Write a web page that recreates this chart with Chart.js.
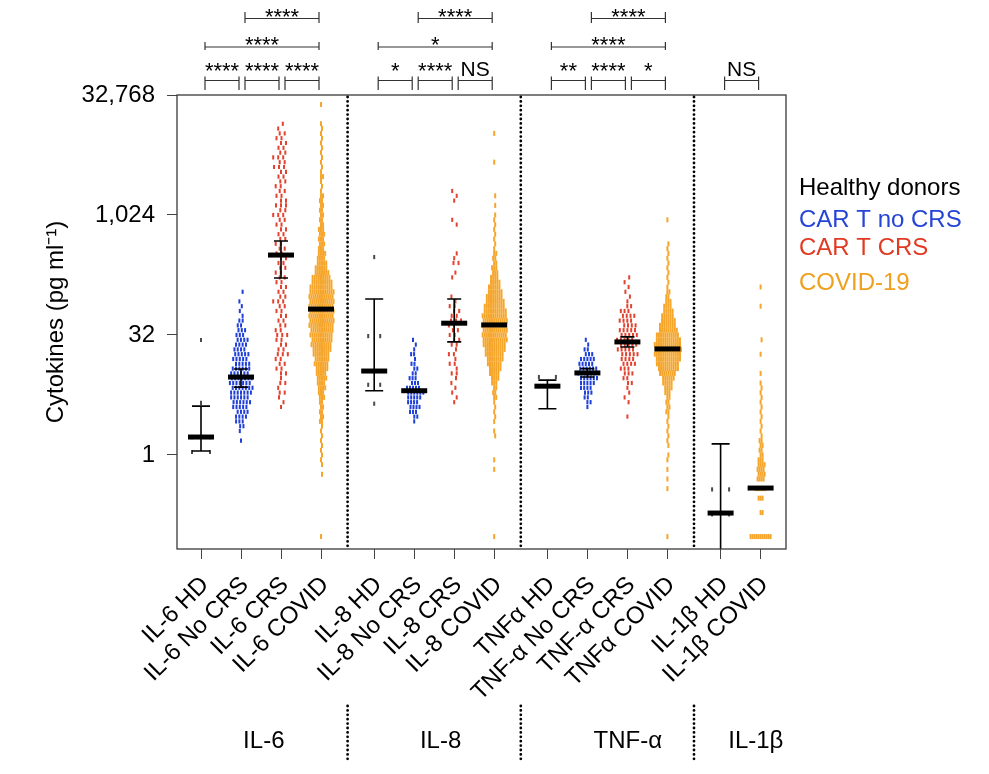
<!DOCTYPE html>
<html>
<head>
<meta charset="utf-8">
<script src="https://cdn.jsdelivr.net/npm/chart.js@4.4.1/dist/chart.umd.min.js"></script>
<style>
  html, body { margin: 0; padding: 0; background: #fff; }
</style>
</head>
<body>
<canvas id="chart" width="989" height="774"></canvas>
<script>
// ---------- data ----------
const categories = [
  'IL-6 HD', 'IL-6 No CRS', 'IL-6 CRS', 'IL-6 COVID',
  'IL-8 HD', 'IL-8 No CRS', 'IL-8 CRS', 'IL-8 COVID',
  'TNFα HD', 'TNF-α No CRS', 'TNF-α CRS', 'TNFα COVID',
  'IL-1β HD', 'IL-1β COVID'
];
const panels     = ['IL-6', 'IL-8', 'TNF-α', 'IL-1β'];
const panelSizes = [4, 4, 4, 2];
const yTicks     = [1, 32, 1024, 32768];
const legendNames = ['Healthy donors', 'CAR T no CRS', 'CAR T CRS', 'COVID-19'];

// median and error bar per category (pg/ml), null = no bar drawn
const medians = [1.68, 9.5, 322, 67.6, 11.3, 6.4, 45, 42.8, 7.3, 10.7, 26.2, 21.4, 0.187, 0.385];
const ciLow   = [1.12, 7.1, 166, null, 6.4, null, 26.2, null, 3.8, 9.5, 22.6, null, 0.01, null];
const ciHigh  = [4.1, 12.0, 484, null, 90.5, null, 90.5, null, 8.7, 12.1, 30.3, null, 1.38, null];

// healthy donors: single samples (pg/ml)
const hdIl6  = [27.7, 4.5, 1.68, 1.68, 1.09, 1.09];
const hdIl8  = [304, 31, 31, 7.6, 7.6, 4.4];
const hdTnf  = [9.5, 9.5, 7.3, 7.3];
const hdIl1b = [0.37, 0.37, 0.18, 0.18];

// other groups: sample counts per 1/5 log2 bin, the first bin sits at 2^low
const il6NoCrsLow = 0.6;
const il6NoCrs = [1,0,1,2,3,4,4,5,6,6,7,7,7,7,6,6,5,5,5,4,4,4,3,3,2,2,1,1,1,1,0,1];
const il6CrsLow = 2.0;
const il6Crs = [1,1,1,2,1,2,1,2,2,2, 2,3,2,2,2,3,2,2,2,2, 2,2,3,2,2,2,2,2,2,2, 2,2,
                2,2,2,2,2,2,2,2, 3,2,3,2,2,2,2,2,2,2, 3,2,3,2,2,2,2,2,1,1];
const il6CovidLow = -3.4;
const il6Covid = [1, 0,0,0,0,0,0,0,0,0,0,0,0, 1,0, 1,1,1,1,1,1,1,1,1, 2,2,2,2,2,
                  3,3,4,4,5,5,6,7,7,8,9,10,10,11,11, 12,12,12,12,12,12,12,12,
                  11,10,9,7,6,5,4,4, 3,3,3,3,3, 2,2,2,2,2,2,2, 1,1,1,2,
                  1,1,1,1,1,1,1,1,1,1,1, 0,0,0,1];

const il8NoCrsLow = 1.4;
const il8NoCrs = [1,2,3,4,4,5,6,5,3,3,2,2,2,1,2,1,1,1];
const il8CrsLow = 2.2;
const il8Crs = [1,1,1,1,1,1, 2,1,2,1,2,1,2,2,2,2,2,3,2, 2,2,1,1, 0,0,0, 1,1, 0, 2,1,1,
                0,0,0,0,0, 1,1, 0,0,0, 1,1,1];
const il8CovidLow = -3.4;
const il8Covid = [1, 0,0,0,0,0,0,0,0,0,0,0,0,0, 1,0,1,0,0,0,0, 1,1,0, 1,1,1,1,1,
                  2,2,2,3,4,5,6,7,8,9,10,11, 12,12,12,12,12,12,
                  11,10,9,8,7,6,5,4,3,3,2,2,2, 1,1,1,1,1,1,1,1,
                  0,1,0,1, 0,0,0,0,0,0, 1, 0,0,0,0,0, 1];

const tnfNoCrsLow = 2.0;
const tnfNoCrs = [1,2,2,3,4,5,6,6,6,5,5,3,2,1,1];
const tnfCrsLow = 1.6;
const tnfCrs = [1,0,0,1,1,1,1,2,2,3,3,4,4,5,5,5,5,5,5,4,4,4,3,2,1,1,1,1,1,1];
const tnfCovidLow = -3.4;
const tnfCovid = [1, 0,0,0,0,0,0,0,0,0, 1,0,1,0,1,0,1,1,0, 1,1,1,1,1,1,1, 2,2,2,2,
                  3,4,5,6,8,10,11,12,13,13,13,12,11,9,8,7,6,5,4,3,2,2,
                  1,1,1,1,1,1,1,1,1,1, 0,0,0,0, 1];

const il1bCovidLow = -3.4;
const il1bCovid = [11, 0,0,0,0, 2, 0,0, 3, 0, 6, 0, 4,4,4,4,3,2,2,2,2,
                   1,1,1,1,1,1,1,1,1,1,1,1, 0,1, 0,0,0, 1, 0,0, 1, 0,0,0,0,0,0, 1, 0,0,0, 1];

// comparisons: [from category, to category, label, row (1 = top)]
const comparisons = [
  [1, 3, '****', 1], [0, 3, '****', 2], [0, 1, '****', 3], [1, 2, '****', 3], [2, 3, '****', 3],
  [5, 7, '****', 1], [4, 7, '*', 2],    [4, 5, '*', 3],    [5, 6, '****', 3], [6, 7, 'NS', 3],
  [9, 11, '****', 1], [8, 11, '****', 2], [8, 9, '**', 3], [9, 10, '****', 3], [10, 11, '*', 3],
  [12, 13, 'NS', 3]
];

// ---------- layout ----------
const FONT = "'Liberation Sans', Arial, Helvetica, sans-serif";
const STEP = 0.2;        // bin width in log2 units
const GROUP_GAP = 4.33;  // x distance between first categories of two panels
const PX = 40;           // pixels per x unit at this canvas size

const colors = { hd: '#4a4a4a', noCrs: '#1f3fd9', crs: '#e2432f', covid: '#f5a52a' };
const legendColors = ['#000000', '#2444d6', '#e03a22', '#f0a01e'];

function catX(i) {
  let g = 0, j = i;
  while (j >= panelSizes[g]) { j -= panelSizes[g]; g++; }
  return g * GROUP_GAP + j;
}

const binsToRows   = (counts, low) => counts.map((n, i) => [Math.pow(2, low + i * STEP), n]);
const valuesToRows = vals => {
  const m = new Map();
  vals.forEach(v => m.set(v, (m.get(v) || 0) + 1));
  return [...m.entries()];
};

// beeswarm: spread each row of equal values sideways
function layRows(rows, cat, gap, shifts) {
  const pts = [];
  rows.forEach(([v, n], r) => {
    const s = shifts[r % shifts.length];
    for (let k = 0; k < n; k++) {
      pts.push({ x: catX(cat) + ((k - (n - 1) / 2) * gap + s) / PX, y: v });
    }
  });
  return pts;
}

const hdShift     = [0];
const blueShift   = [0, 1.6, -1.2, 0.8, -1.6];
const redShift    = [0, 2.5, -2, 1.2, -2.8, 1.8];
const orangeShift = [0, 1];

const hdPoints = [].concat(
  layRows(valuesToRows(hdIl6), 0, 18, hdShift),
  layRows(valuesToRows(hdIl8), 4, 12, hdShift),
  layRows(valuesToRows(hdTnf), 8, 17, hdShift),
  layRows(valuesToRows(hdIl1b), 12, 17, hdShift)
);
const noCrsPoints = [].concat(
  layRows(binsToRows(il6NoCrs, il6NoCrsLow), 1, 3.3, blueShift),
  layRows(binsToRows(il8NoCrs, il8NoCrsLow), 5, 3.0, blueShift),
  layRows(binsToRows(tnfNoCrs, tnfNoCrsLow), 9, 3.2, blueShift)
);
const crsPoints = [].concat(
  layRows(binsToRows(il6Crs, il6CrsLow), 2, 5, redShift),
  layRows(binsToRows(il8Crs, il8CrsLow), 6, 5, redShift),
  layRows(binsToRows(tnfCrs, tnfCrsLow), 10, 3.8, redShift)
);
const covidPoints = [].concat(
  layRows(binsToRows(il6Covid, il6CovidLow), 3, 2.1, orangeShift),
  layRows(binsToRows(il8Covid, il8CovidLow), 7, 2.1, orangeShift),
  layRows(binsToRows(tnfCovid, tnfCovidLow), 11, 2.1, orangeShift),
  layRows(binsToRows(il1bCovid, il1bCovidLow), 13, 2.0, orangeShift)
);

function dashSet(label, data, color, order, half) {
  return {
    label, data, order,
    pointStyle: 'line', pointRotation: 90,
    pointRadius: half, pointBorderWidth: 2,
    pointBorderColor: color, pointBackgroundColor: color
  };
}

// ---------- extra drawing ----------
function dotted(ctx, x, y0, y1) {
  ctx.save();
  ctx.strokeStyle = '#000';
  ctx.lineWidth = 2.8;
  ctx.lineCap = 'round';
  ctx.setLineDash([0, 4.4]);
  ctx.beginPath();
  ctx.moveTo(x, y0);
  ctx.lineTo(x, y1);
  ctx.stroke();
  ctx.restore();
}

const decor = {
  id: 'decor',
  afterDatasetsDraw(chart) {
    const { ctx, chartArea: a, scales: { x, y } } = chart;
    ctx.save();
    ctx.beginPath();
    ctx.rect(a.left, a.top, a.right - a.left, a.bottom - a.top);
    ctx.clip();
    ctx.strokeStyle = '#000';
    ctx.lineWidth = 1.6;
    categories.forEach((c, i) => {
      if (ciLow[i] == null) return;
      const px = x.getPixelForValue(catX(i));
      const lo = y.getPixelForValue(ciLow[i]);
      const hi = y.getPixelForValue(ciHigh[i]);
      const cap = (i === 0 || i === 4 || i === 8 || i === 12) ? 9 : 7;
      ctx.beginPath();
      ctx.moveTo(px, lo); ctx.lineTo(px, hi);
      ctx.moveTo(px - cap, hi); ctx.lineTo(px + cap, hi);
      if (lo < a.bottom) { ctx.moveTo(px - cap, lo); ctx.lineTo(px + cap, lo); }
      ctx.stroke();
    });
    ctx.restore();
  },
  afterDraw(chart) {
    const { ctx, chartArea: a, scales: { x } } = chart;
    ctx.save();

    // frame
    ctx.strokeStyle = '#3a3a3a';
    ctx.lineWidth = 1.3;
    ctx.strokeRect(a.left, a.top, a.right - a.left, a.bottom - a.top);

    // panel separators (inside plot and under the panel names)
    let first = 0;
    const sepX = [];
    for (let g = 0; g < panels.length - 1; g++) {
      const last = first + panelSizes[g] - 1;
      sepX.push(x.getPixelForValue((catX(last) + catX(last + 1)) / 2));
      first = last + 1;
    }
    sepX.forEach(px => {
      dotted(ctx, px, a.top + 2, a.bottom - 1);
      dotted(ctx, px, 706, 762);
    });

    // panel names
    const panelLabelX = [1.57, 5.99, 10.67, 13.87];
    ctx.fillStyle = '#000';
    ctx.font = '24px ' + FONT;
    ctx.textAlign = 'center';
    ctx.textBaseline = 'alphabetic';
    panels.forEach((p, g) => ctx.fillText(p, x.getPixelForValue(panelLabelX[g]), 748));

    // significance brackets
    const rowLine  = { 1: 18.5, 2: 47, 3: 80.5 };
    const rowTick  = { 1: [12, 23], 2: [42, 50], 3: [76.5, 90] };
    const rowStars = { 1: 24.3, 2: 52.2, 3: 78.1 };
    ctx.strokeStyle = '#333';
    ctx.lineWidth = 1.2;
    comparisons.forEach(([i, j, label, row]) => {
      const x1 = x.getPixelForValue(catX(i)) + 4;
      const x2 = x.getPixelForValue(catX(j)) - 2;
      const [t0, t1] = rowTick[row];
      ctx.beginPath();
      ctx.moveTo(x1, rowLine[row]); ctx.lineTo(x2, rowLine[row]);
      ctx.moveTo(x1, t0); ctx.lineTo(x1, t1);
      ctx.moveTo(x2, t0); ctx.lineTo(x2, t1);
      ctx.stroke();
      const mid = (x1 + x2) / 2;
      if (label === 'NS') {
        ctx.font = '21px ' + FONT;
        ctx.fillText(label, mid, 75.5);
      } else {
        ctx.font = '22px ' + FONT;
        ctx.fillText(label, mid, rowStars[row]);
      }
    });

    // legend
    ctx.font = '24px ' + FONT;
    ctx.textAlign = 'left';
    const legendY = [195, 227, 255, 290];
    legendNames.forEach((n, k) => {
      ctx.fillStyle = legendColors[k];
      ctx.fillText(n, 799, legendY[k]);
    });
    ctx.restore();
  }
};

// ---------- chart ----------
Chart.defaults.font.family = FONT;
Chart.defaults.color = '#000';

new Chart(document.getElementById('chart'), {
  type: 'scatter',
  data: {
    datasets: [
      {
        label: 'median',
        order: 0,
        data: medians.map((m, i) => ({ x: catX(i), y: m })),
        pointStyle: 'line', pointRotation: 0,
        pointRadius: 13, pointBorderWidth: 5,
        pointBorderColor: '#000', pointBackgroundColor: '#000'
      },
      dashSet(legendNames[0], hdPoints, colors.hd, 1, 2.1),
      dashSet(legendNames[1], noCrsPoints, colors.noCrs, 2, 2.1),
      dashSet(legendNames[2], crsPoints, colors.crs, 3, 2.1),
      dashSet(legendNames[3], covidPoints, colors.covid, 4, 2.5)
    ]
  },
  options: {
    responsive: false,
    animation: false,
    events: [],
    layout: { padding: { left: 0, top: 95, right: 203, bottom: 0 } },
    plugins: { legend: { display: false }, tooltip: { enabled: false } },
    scales: {
      x: {
        type: 'linear',
        min: -0.6,
        max: 14.625,
        afterBuildTicks: axis => { axis.ticks = categories.map((c, i) => ({ value: catX(i) })); },
        afterFit: axis => { axis.height = 225; },
        ticks: {
          autoSkip: false,
          minRotation: 45,
          maxRotation: 45,
          padding: 12,
          labelOffset: 4,
          font: { size: 24 },
          callback: (v, i) => categories[i]
        },
        grid: { drawOnChartArea: false, drawTicks: true, tickLength: 10, color: '#444' },
        border: { display: false }
      },
      y: {
        type: 'logarithmic',
        min: Math.pow(2, -3.917),
        max: 32768,
        afterBuildTicks: axis => { axis.ticks = yTicks.map(v => ({ value: v })); },
        afterFit: axis => { axis.width = 177; },
        ticks: {
          padding: 12,
          font: { size: 24 },
          callback: v => Number(v).toLocaleString('en-US')
        },
        grid: { drawOnChartArea: false, drawTicks: true, tickLength: 10, color: '#444' },
        border: { display: false },
        title: {
          display: true,
          text: 'Cytokines (pg ml⁻¹)',
          font: { size: 24 },
          padding: { top: 42, bottom: 0 }
        }
      }
    }
  },
  plugins: [decor]
});
</script>
</body>
</html>
